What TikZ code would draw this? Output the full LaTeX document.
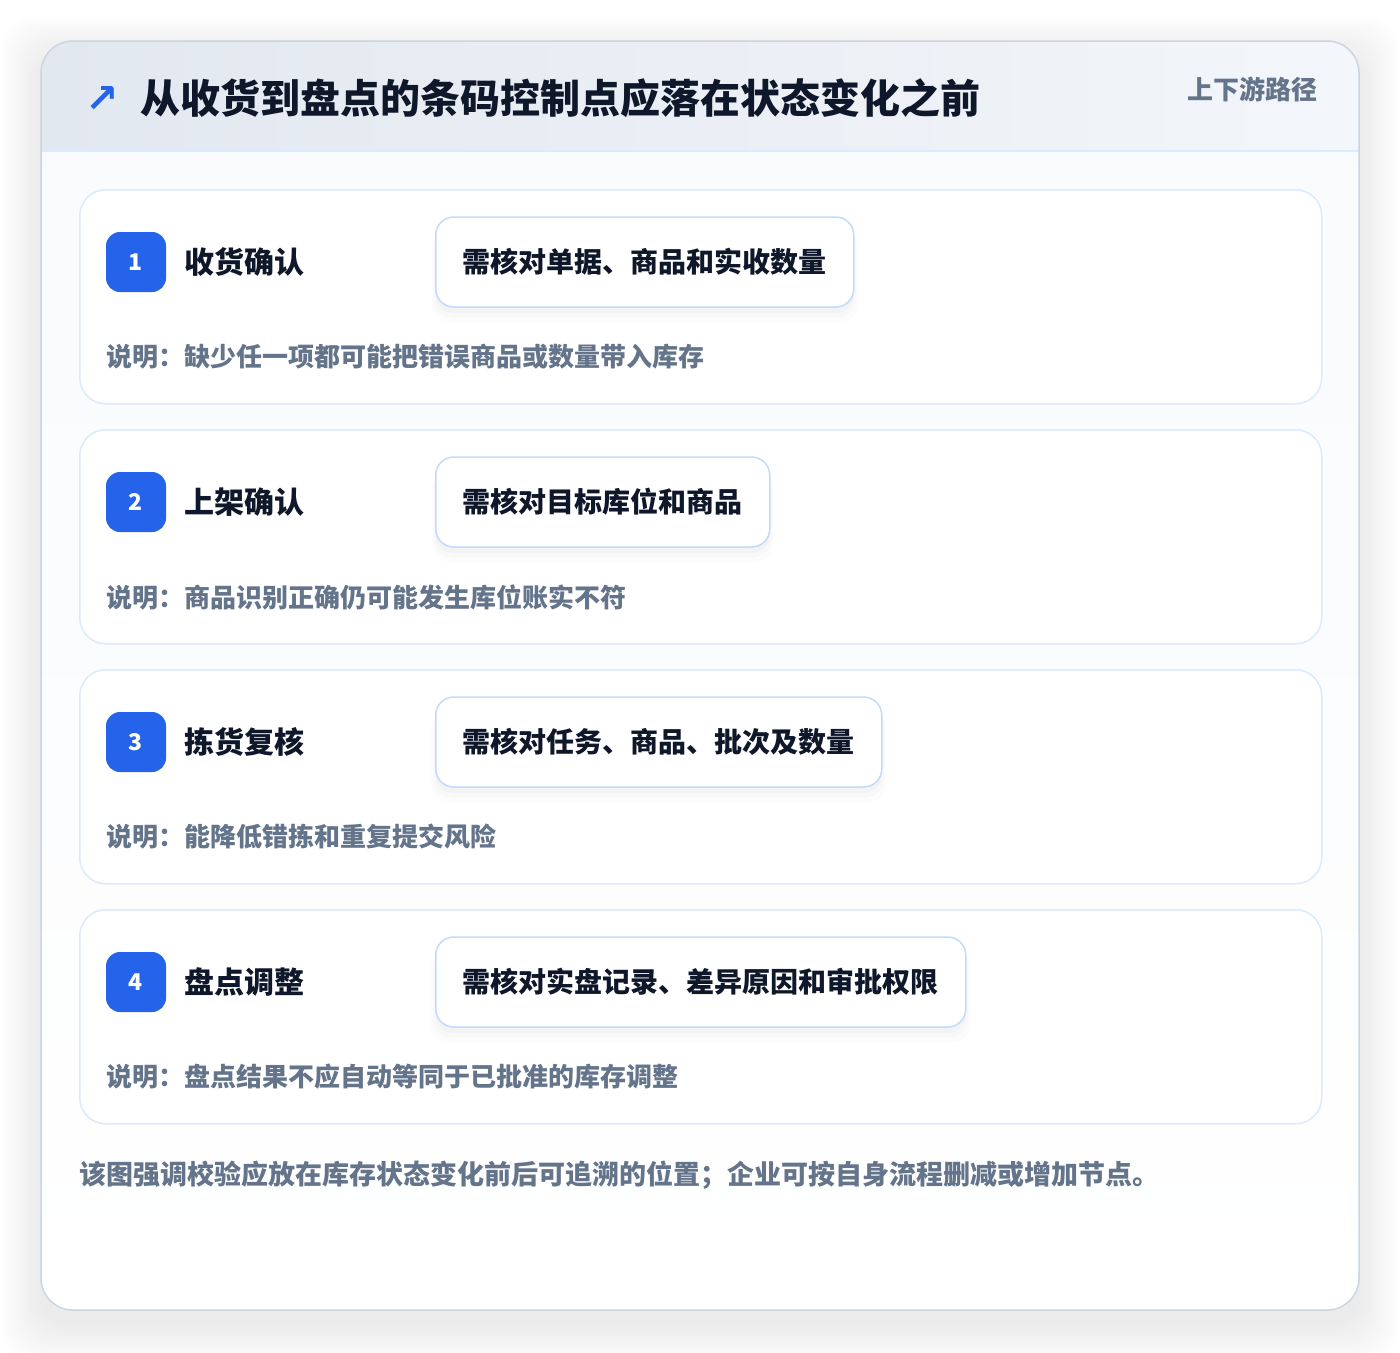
\documentclass[tikz,border=0pt]{standalone}
\usepackage{fontspec}
\setmainfont{Noto Sans CJK SC}
\newfontfamily\symfont{DejaVu Sans}
\usetikzlibrary{positioning, calc, shadows}

\definecolor{accent}{HTML}{2563EB}
\definecolor{ink}{HTML}{0F172A}
\definecolor{muted}{HTML}{64748B}
\definecolor{cardline}{HTML}{CBD5E1}
\definecolor{stepline}{HTML}{DBEAFE}
\definecolor{checkline}{HTML}{BFDBFE}
\definecolor{hdrleft}{HTML}{E2E8F0}
\definecolor{hdrright}{HTML}{F3F6FA}
\definecolor{bodytop}{HTML}{F8FAFC}

\tikzstyle{stepcard} = [rectangle, rounded corners=26pt, draw=stepline, line width=1.5pt, fill=white, minimum width=1242pt, minimum height=214pt, anchor=north west]
\tikzstyle{badge} = [rectangle, rounded corners=14pt, fill=accent, text=white, font=\fontsize{23}{23}\selectfont\bfseries, minimum size=60pt, inner sep=0pt]
\tikzstyle{steptitle} = [font=\fontsize{30}{30}\selectfont\bfseries, text=ink, inner sep=0pt, anchor=west]
\tikzstyle{check} = [rectangle, rounded corners=18pt, draw=checkline, line width=1.5pt, fill=white, minimum height=90pt, inner xsep=27pt, font=\fontsize{28}{28}\selectfont\bfseries, text=ink, anchor=west,
    drop shadow={shadow xshift=0pt, shadow yshift=-14pt, shadow scale=1.02, opacity=0.012, fill=black},
    drop shadow={shadow xshift=0pt, shadow yshift=-10pt, shadow scale=1.01, opacity=0.015, fill=black},
    drop shadow={shadow xshift=0pt, shadow yshift=-6pt, opacity=0.018, fill=black}]
\tikzstyle{note} = [font=\fontsize{26}{26}\selectfont\bfseries, text=muted, inner sep=0pt, anchor=west]

\begin{document}
\begin{tikzpicture}[x=1pt, y=-1pt]
        \useasboundingbox (0,0) rectangle (1400,1352);

        % Card shadow
        \foreach \s in {2,4,...,40}
            \fill[black, opacity=0.003, rounded corners=34pt] ($(41,41)+(-\s,-\s+14)$) rectangle ($(1359,1310)+(\s,\s+14)$);

        % Card body
        \shade[top color=bodytop, bottom color=white, rounded corners=32pt] (41,41) rectangle (1359,1310);

        % Header band
        \begin{scope}
            \clip[rounded corners=32pt] (41,41) rectangle (1359,1310);
            \shade[left color=hdrleft, right color=hdrright] (41,41) rectangle (1359,151);
        \end{scope}
        \draw[stepline, line width=1.5pt] (41,151) -- (1359,151);
        \draw[cardline, line width=1.5pt, rounded corners=32pt] (41,41) rectangle (1359,1310);

        \node[font=\symfont\fontsize{40}{40}\selectfont\bfseries, text=accent, inner sep=0pt] (icon) at (102,99) {↗};
        \node[font=\fontsize{40}{40}\selectfont\bfseries, text=ink, inner sep=0pt, anchor=west] (title) at (140,98) {从收货到盘点的条码控制点应落在状态变化之前};
        \node[font=\fontsize{26}{26}\selectfont\bfseries, text=muted, inner sep=0pt, anchor=east] (tag) at (1318,89) {上下游路径};

        % Step 1
        \node[stepcard] (card1) at (79,189) {};
        \node[badge] (badge1) at (136,262) {1};
        \node[steptitle] (title1) [right=18pt of badge1] {收货确认};
        \node[check] (check1) at (435,262) {需核对单据、商品和实收数量};
        \node[note] (note1) at (106,357) {说明：缺少任一项都可能把错误商品或数量带入库存};

        % Step 2
        \node[stepcard] (card2) at (79,429) {};
        \node[badge] (badge2) at (136,502) {2};
        \node[steptitle] (title2) [right=18pt of badge2] {上架确认};
        \node[check] (check2) at (435,502) {需核对目标库位和商品};
        \node[note] (note2) at (106,597) {说明：商品识别正确仍可能发生库位账实不符};

        % Step 3
        \node[stepcard] (card3) at (79,669) {};
        \node[badge] (badge3) at (136,742) {3};
        \node[steptitle] (title3) [right=18pt of badge3] {拣货复核};
        \node[check] (check3) at (435,742) {需核对任务、商品、批次及数量};
        \node[note] (note3) at (106,837) {说明：能降低错拣和重复提交风险};

        % Step 4
        \node[stepcard] (card4) at (79,909) {};
        \node[badge] (badge4) at (136,982) {4};
        \node[steptitle] (title4) [right=18pt of badge4] {盘点调整};
        \node[check] (check4) at (435,982) {需核对实盘记录、差异原因和审批权限};
        \node[note] (note4) at (106,1077) {说明：盘点结果不应自动等同于已批准的库存调整};

        % Footer
        \node[font=\fontsize{27}{27}\selectfont\bfseries, text=muted, inner sep=0pt, anchor=west] (footer) at (79,1175) {该图强调校验应放在库存状态变化前后可追溯的位置；企业可按自身流程删减或增加节点。};
    \end{tikzpicture}
\end{document}
